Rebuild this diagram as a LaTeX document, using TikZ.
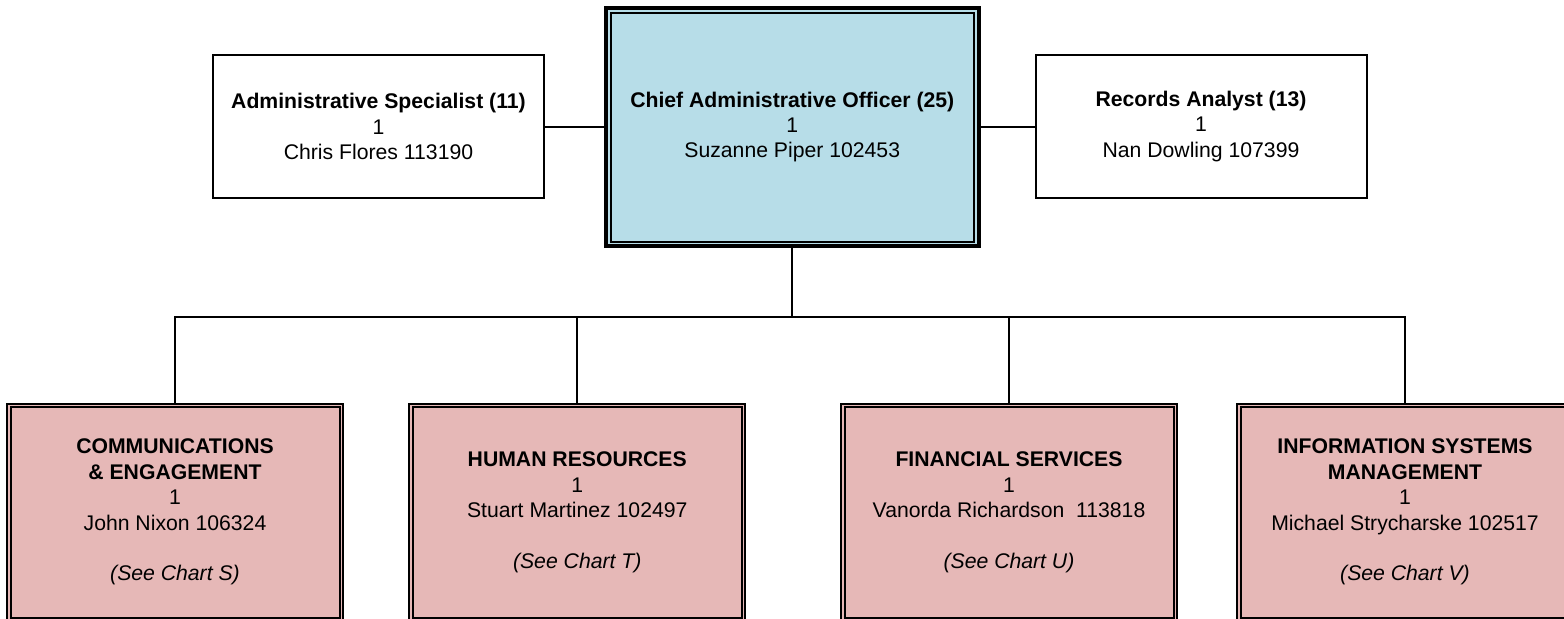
\documentclass[tikz,border=0pt]{standalone}
\usepackage{fontspec}
\setmainfont{Liberation Sans}
\definecolor{caoblue}{HTML}{B7DDE8}
\definecolor{deptpink}{HTML}{E6B8B7}
\tikzset{
  txt/.style={font=\fontsize{10.6pt}{12.7pt}\selectfont, align=center, inner sep=0pt},
  sidebox/.style={txt, draw, line width=1pt, minimum width=165.5pt, minimum height=71.5pt, fill=white},
  caobox/.style={txt, draw, line width=2pt, fill=caoblue, minimum width=186.25pt, minimum height=119pt},
  deptbox/.style={txt, draw, line width=1pt, fill=deptpink, minimum width=168pt, minimum height=108.75pt},
  innerline/.style={line width=1pt},
  conn/.style={line width=1pt},
}
\begin{document}
\begin{tikzpicture}[x=0.5pt,y=-0.5pt]
\useasboundingbox (0,0) rectangle (1564,618);
\clip (0,0) rectangle (1564,618);
% top row
\node[caobox] (cao) at (792.25,127) {\textbf{Chief Administrative Officer (25)}\\1\\Suzanne Piper 102453};
\draw[innerline] ([shift={(6.5,6.5)}]cao.north west) rectangle ([shift={(-6.5,-6.5)}]cao.south east);
\node[sidebox] (adm) at (378.5,126.5) {\textbf{Administrative Specialist (11)}\\1\\Chris Flores 113190};
\node[sidebox] (rec) at (1201,126.5) {\textbf{Records Analyst (13)}\\1\\Nan Dowling 107399};
\draw[conn] (adm.east) -- (adm.east -| cao.west);
\draw[conn] (rec.west) -- (rec.west -| cao.east);
% departments
\node[deptbox] (d1) at (175,512.25) {\textbf{COMMUNICATIONS}\\\textbf{\& ENGAGEMENT}\\1\\John Nixon 106324\\[12.7pt]\itshape (See Chart S)};
\node[deptbox] (d2) at (577.25,512.25) {\textbf{HUMAN RESOURCES}\\1\\Stuart Martinez 102497\\[12.7pt]\itshape (See Chart T)};
\node[deptbox] (d3) at (1009,512.25) {\textbf{FINANCIAL SERVICES}\\1\\Vanorda Richardson\ \ 113818\\[12.7pt]\itshape (See Chart U)};
\node[deptbox] (d4) at (1405,512.25) {\textbf{INFORMATION SYSTEMS}\\\textbf{MANAGEMENT}\\1\\Michael Strycharske 102517\\[12.7pt]\itshape (See Chart V)};
\foreach \d in {d1,d2,d3,d4}{
  \draw[innerline] ([shift={(4.5,4.5)}]\d.north west) rectangle ([shift={(-4.5,-4.5)}]\d.south east);
}
% bus
\coordinate (bus) at (792.25,317);
\draw[conn] (cao.south) -- (bus);
\draw[conn] (d1.north) -- (d1.north |- bus) -- (d4.north |- bus) -- (d4.north);
\draw[conn] (d2.north) -- (d2.north |- bus);
\draw[conn] (d3.north) -- (d3.north |- bus);
\end{tikzpicture}
\end{document}
